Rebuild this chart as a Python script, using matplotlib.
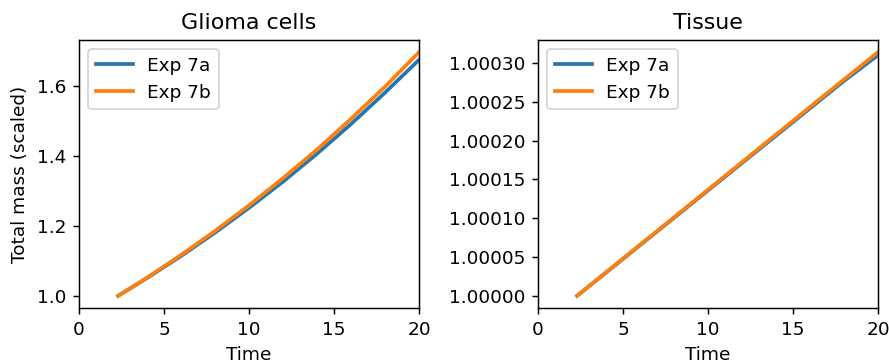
import matplotlib
matplotlib.use("Agg")
import matplotlib.pyplot as plt
from matplotlib.ticker import MultipleLocator

# total mass over time, scaled by the initial value
time = [2.3, 4, 6, 8, 10, 12, 14, 16, 18, 20]

glioma_7a = [1.0, 1.0509, 1.114, 1.181, 1.252, 1.327, 1.407, 1.492, 1.582, 1.676]
glioma_7b = [1.0, 1.052, 1.117, 1.186, 1.259, 1.337, 1.419, 1.507, 1.599, 1.698]

tissue_7a = [1.0, 1.0000299, 1.0000652, 1.0001004, 1.0001357, 1.0001710, 1.0002062, 1.0002415, 1.0002767, 1.0003100]
tissue_7b = [1.0, 1.0000302, 1.0000657, 1.0001012, 1.0001367, 1.0001722, 1.0002077, 1.0002432, 1.0002787, 1.0003138]

labels = ["Exp 7a", "Exp 7b"]

dpi = 133
fig = plt.figure(figsize=(889 / dpi, 361 / dpi), dpi=dpi)
ax1 = fig.add_axes([0.0889, 0.1468, 0.3824, 0.7424])
ax2 = fig.add_axes([0.6052, 0.1468, 0.3824, 0.7424])

ax1.plot(time, glioma_7a, lw=2, label=labels[0])
ax1.plot(time, glioma_7b, lw=2, label=labels[1])
ax1.set_title("Glioma cells")
ax1.set_xlabel("Time")
ax1.set_ylabel("Total mass (scaled)")
ax1.set_xlim(0, 20)
ax1.set_xticks([0, 5, 10, 15, 20])
ax1.yaxis.set_major_locator(MultipleLocator(0.2))
ax1.legend(loc="upper left")

ax2.plot(time, tissue_7a, lw=2, label=labels[0])
ax2.plot(time, tissue_7b, lw=2, label=labels[1])
ax2.set_title("Tissue")
ax2.set_xlabel("Time")
ax2.set_xlim(0, 20)
ax2.set_xticks([0, 5, 10, 15, 20])
ax2.yaxis.set_major_locator(MultipleLocator(0.00005))
ax2.ticklabel_format(axis="y", useOffset=False)
ax2.legend(loc="upper left")

fig.savefig("out.png", dpi=dpi)
